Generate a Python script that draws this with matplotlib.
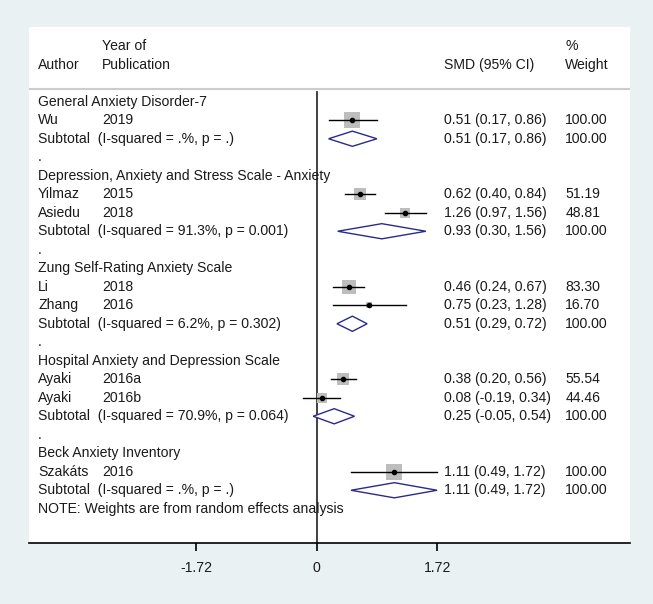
import matplotlib.pyplot as plt
from matplotlib.patches import Polygon

# Subgroups (anxiety scales)
grupos = ["General Anxiety Disorder-7",
          "Depression, Anxiety and Stress Scale - Anxiety",
          "Zung Self-Rating Anxiety Scale",
          "Hospital Anxiety and Depression Scale",
          "Beck Anxiety Inventory"]

# Individual studies
autores = ["Wu", "Yilmaz", "Asiedu", "Li", "Zhang", "Ayaki", "Ayaki", "Szakáts"]
anos = ["2019", "2015", "2018", "2018", "2016", "2016a", "2016b", "2016"]
grupo_estudo = [0, 1, 1, 2, 2, 3, 3, 4]
smd = [0.51, 0.62, 1.26, 0.46, 0.75, 0.38, 0.08, 1.11]
ic_inf = [0.17, 0.40, 0.97, 0.24, 0.23, 0.20, -0.19, 0.49]
ic_sup = [0.86, 0.84, 1.56, 0.67, 1.28, 0.56, 0.34, 1.72]
pesos = [100.00, 51.19, 48.81, 83.30, 16.70, 55.54, 44.46, 100.00]

# Subtotals (random effects)
sub_smd = [0.51, 0.93, 0.51, 0.25, 1.11]
sub_inf = [0.17, 0.30, 0.29, -0.05, 0.49]
sub_sup = [0.86, 1.56, 0.72, 0.54, 1.72]
sub_i2 = [".", "91.3", "6.2", "70.9", "."]
sub_p = [".", "0.001", "0.302", "0.064", "."]

ticks_x = [-1.72, 0, 1.72]

# Figure and panel
fig = plt.figure(figsize=(6.53, 6.04), dpi=100, facecolor="#eaf1f3")
ax = fig.add_axes([0.0444, 0.101, 0.9204, 0.8543], facecolor="white")
ax.set_xlim(-4.11, 4.476)
ax.set_ylim(23.85, -4.04)

fonte = dict(family="Liberation Sans", fontsize=10.1, color="#1a1a1a", va="center")
col_autor, col_ano, col_est, col_peso = -3.98, -3.07, 1.82, 3.55
cor_diamante = "#2a2a8e"

# Header
ax.text(col_ano, -3.01, "Year of", **fonte)
ax.text(col_autor, -1.98, "Author", **fonte)
ax.text(col_ano, -1.98, "Publication", **fonte)
ax.text(col_est, -1.98, "SMD (95% CI)", **fonte)
ax.text(col_peso, -3.01, "%", **fonte)
ax.text(col_peso, -1.98, "Weight", **fonte)
ax.axhline(-0.69, color="#cccccc", lw=1.5)

# Rows
linha = 0
for g, nome in enumerate(grupos):
    ax.text(col_autor, linha, nome, **fonte)
    linha += 1
    for i in range(len(autores)):
        if grupo_estudo[i] != g:
            continue
        ax.text(col_autor, linha, autores[i], **fonte)
        ax.text(col_ano, linha, anos[i], **fonte)
        ax.text(col_est, linha, f"{smd[i]:.2f} ({ic_inf[i]:.2f}, {ic_sup[i]:.2f})", **fonte)
        ax.text(col_peso, linha, f"{pesos[i]:.2f}", **fonte)
        # box side (px) grows with the study weight
        lado = 15.5 * (pesos[i] / 100) ** 0.5 * 0.72
        ax.scatter(smd[i], linha, marker="s", s=lado ** 2, color="#bdbdbd", zorder=2, linewidths=0)
        ax.plot([ic_inf[i], ic_sup[i]], [linha, linha], color="black", lw=1, zorder=3)
        ax.plot(smd[i], linha, "o", color="black", ms=3, zorder=4)
        linha += 1
    ax.text(col_autor, linha, f"Subtotal  (I-squared = {sub_i2[g]}%, p = {sub_p[g]})", **fonte)
    ax.text(col_est, linha, f"{sub_smd[g]:.2f} ({sub_inf[g]:.2f}, {sub_sup[g]:.2f})", **fonte)
    ax.text(col_peso, linha, "100.00", **fonte)
    h = 0.41
    diamante = Polygon([(sub_inf[g], linha), (sub_smd[g], linha - h), (sub_sup[g], linha),
                        (sub_smd[g], linha + h)], closed=True, facecolor="white",
                       edgecolor=cor_diamante, lw=1, zorder=3)
    ax.add_patch(diamante)
    linha += 1
    if g < len(grupos) - 1:
        ax.text(col_autor, linha, ".", **fonte)
        linha += 1

ax.text(col_autor, linha, "NOTE: Weights are from random effects analysis", **fonte)

# Null line
ax.plot([0, 0], [-0.52, 23.85], color="#333333", lw=1.3, zorder=1)

# Axis
for lado_spine in ["left", "right", "top"]:
    ax.spines[lado_spine].set_visible(False)
ax.spines["bottom"].set_linewidth(1.2)
ax.set_yticks([])
ax.set_xticks(ticks_x)
ax.set_xticklabels(["-1.72", "0", "1.72"], family="Liberation Sans", fontsize=10.1, color="#1a1a1a")
ax.tick_params(axis="x", length=6, width=1.2, pad=7)

plt.savefig("out.png", dpi=100, facecolor=fig.get_facecolor())
plt.close()
